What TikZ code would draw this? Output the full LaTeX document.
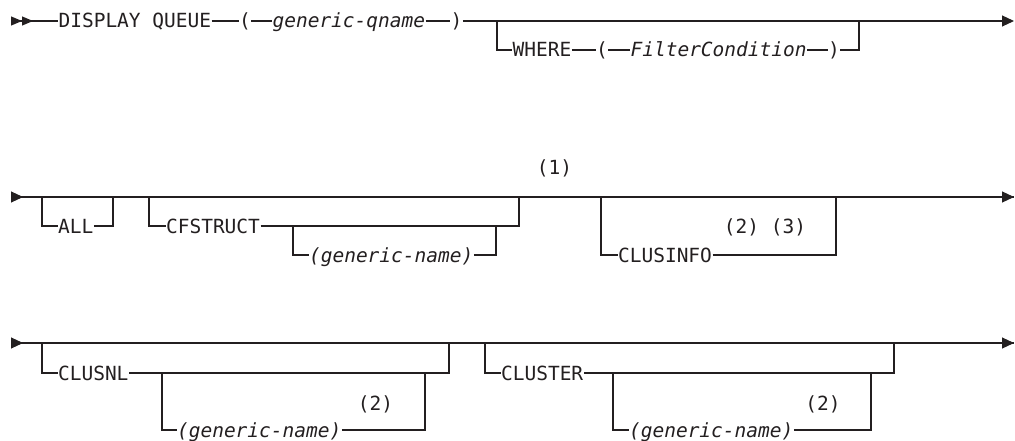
\documentclass[tikz,border=0pt]{standalone}
\usepackage{fontspec}
\setmonofont{DejaVu Sans Mono}
\usepackage{tikz}
\usepackage{xcolor}
\usetikzlibrary{arrows.meta,positioning}
\definecolor{ink}{HTML}{231F20}
\newcommand{\rrfont}{\ttfamily\fontsize{19.5}{22}\selectfont}

\begin{document}
\begin{tikzpicture}[x=1pt,y=-1pt,line width=1.1pt,draw=ink,text=ink,
  kw/.style={inner sep=0pt,anchor=west,text height=14pt,text depth=0pt,font=\rrfont},
  var/.style={kw,font=\rrfont\itshape},
  note/.style={inner sep=0pt,text height=14pt,text depth=0pt,font=\rrfont},
  rail/.style={draw=ink},
  startarr/.style={{Triangle[reversed,length=11pt,width=9pt]Triangle[reversed,length=11pt,width=9pt]}-},
  rowarr/.style={{Triangle[reversed,length=12pt,width=11pt]}-},
  endarr/.style={-{Triangle[length=12pt,width=11pt]}}]
\useasboundingbox (0,0) rectangle (1015,441);

% row 1
\coordinate (s1) at (11,21);
\coordinate (e1) at (1014,21);
\node[kw] (disp) at (58,21) {DISPLAY QUEUE};
\node[kw] (lpa) at (238.6,21) {(};
\node[var] (gq) at (272,21) {generic-qname};
\node[kw] (rpa) at (450,21) {)};
\coordinate (w1) at (497,21);
\coordinate (w2) at (859,21);
\node[kw] (where) at (512,50) {WHERE};
\node[kw] (lpb) at (595.6,50) {(};
\node[var] (filt) at (630,50) {FilterCondition};
\node[kw] (rpb) at (827.6,50) {)};

\draw[startarr] (s1) -- (disp.west);
\draw (disp.east) -- (lpa.west);
\draw (lpa.east) -- (gq.west);
\draw (gq.east) -- (rpa.west);
\draw[endarr] (rpa.east) -- (e1);
\draw (w1) |- (where.west);
\draw (where.east) -- (lpb.west);
\draw (lpb.east) -- (filt.west);
\draw (filt.east) -- (rpb.west);
\draw (rpb.east) -| (w2);

% row 2
\coordinate (s2) at (11,197);
\coordinate (e2) at (1014,197);
\draw[rowarr] (s2) -- (e2);
\draw[endarr] (900,197) -- (e2);
\coordinate (a1) at (42,197);
\coordinate (a2) at (113,197);
\node[kw] (all) at (57.5,226) {ALL};
\draw (a1) |- (all.west);
\draw (all.east) -| (a2);
\coordinate (c1) at (149,197);
\coordinate (c2) at (519,197);
\node[kw] (cfs) at (165.5,226) {CFSTRUCT};
\draw (c1) |- (cfs.west);
\draw (cfs.east) -| (c2);
\coordinate (c3) at (293,226);
\coordinate (c4) at (496,226);
\node[var] (gna) at (308.5,255) {(generic-name)};
\draw (c3) |- (gna.west);
\draw (gna.east) -| (c4);
\node[note] (n1) at (554.5,168) {(1)};
\coordinate (ci1) at (601,197);
\coordinate (ci2) at (836,197);
\node[kw] (clusinfo) at (617.5,255) {CLUSINFO};
\draw (ci1) |- (clusinfo.west);
\draw (clusinfo.east) -| (ci2);
\node[note] (n23) at (765,226) {(2) (3)};

% row 3
\coordinate (s3) at (11,343);
\coordinate (e3) at (1014,343);
\draw[rowarr] (s3) -- (e3);
\draw[endarr] (950,343) -- (e3);
\coordinate (l1) at (42,343);
\coordinate (l2) at (449,343);
\node[kw] (clusnl) at (57.5,373) {CLUSNL};
\draw (l1) |- (clusnl.west);
\draw (clusnl.east) -| (l2);
\coordinate (l3) at (162,373);
\coordinate (l4) at (425,373);
\node[var] (gnb) at (176.5,430) {(generic-name)};
\draw (l3) |- (gnb.west);
\draw (gnb.east) -| (l4);
\node[note] (n2a) at (375.5,403) {(2)};
\coordinate (t1) at (485,343);
\coordinate (t2) at (894,343);
\node[kw] (cluster) at (500.5,373) {CLUSTER};
\draw (t1) |- (cluster.west);
\draw (cluster.east) -| (t2);
\coordinate (t3) at (613,373);
\coordinate (t4) at (871,373);
\node[var] (gnc) at (628.5,430) {(generic-name)};
\draw (t3) |- (gnc.west);
\draw (gnc.east) -| (t4);
\node[note] (n2b) at (823,403) {(2)};
\end{tikzpicture}
\end{document}
